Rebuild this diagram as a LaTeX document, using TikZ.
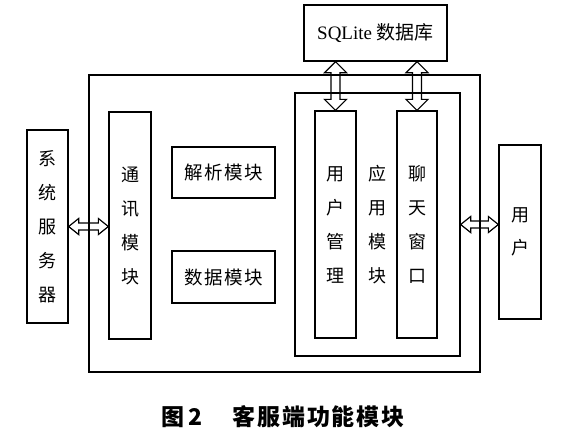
\documentclass[tikz,border=0pt]{standalone}
\usepackage{fontspec}
\setmainfont{Liberation Serif}
\newfontfamily\cjk{Noto Sans CJK SC}
\usetikzlibrary{calc}
\tikzset{
  box/.style={draw, line width=1.3pt, inner sep=0pt, align=center,
    font=\cjk\fontsize{18}{34}\selectfont},
  hbox/.style={box, font=\cjk\addfontfeature{LetterSpace=8}\fontsize{18.5}{20}\selectfont},
  frame/.style={draw, line width=1.1pt},
  arrowline/.style={draw, line width=1.2pt},
  dbl/.style n args={3}{to path={
    let \p1=($(\tikztostart)!#3!(\tikztotarget)$),
        \p2=($(\tikztotarget)!#3!(\tikztostart)$) in
    (\tikztostart) -- ($(\p1)!#1!90:(\tikztotarget)$) -- ($(\p1)!#2!90:(\tikztotarget)$)
    -- ($(\p2)!#2!-90:(\tikztostart)$) -- ($(\p2)!#1!-90:(\tikztostart)$) -- (\tikztotarget)
    -- ($(\p2)!#1!90:(\tikztostart)$) -- ($(\p2)!#2!90:(\tikztostart)$)
    -- ($(\p1)!#2!-90:(\tikztotarget)$) -- ($(\p1)!#1!-90:(\tikztotarget)$) -- cycle}},
  captext/.style={font=\cjk\bfseries\addfontfeature{LetterSpace=8}\fontsize{23}{23}\selectfont, inner sep=0pt}
}
\begin{document}
\begin{tikzpicture}[x=1pt,y=-1pt]
\useasboundingbox (0,0) rectangle (575,432);
\node[frame, minimum width=391, minimum height=297] (outer) at (284.5,223.5) {};
\node[box, minimum width=165, minimum height=263] (app) at (377.5,224.5) {应\\用\\模\\块};
\node[box, minimum width=41, minimum height=193] (sys) at (47.5,226.5) {系\\统\\服\\务\\器};
\node[box, minimum width=42, minimum height=227] (comm) at (130,225.5) {通\\讯\\模\\块};
\node[hbox, minimum width=103, minimum height=51] (parse) at (223.5,172.5) {解析模块};
\node[hbox, minimum width=103, minimum height=52] (data) at (223.5,277) {数据模块};
\node[box, minimum width=41, minimum height=227] (umgr) at (335.5,224.5) {用\\户\\管\\理};
\node[box, minimum width=40, minimum height=227] (chat) at (417,224.5) {聊\\天\\窗\\口};
\node[box, minimum width=143, minimum height=56, font=\fontsize{19}{20}\selectfont] (sql) at (375.5,33) {SQLite {\cjk 数据库}};
\node[box, minimum width=42, minimum height=174, font=\cjk\fontsize{18}{33}\selectfont] (user) at (520,232) {用\\户};
\coordinate (a1) at (sys.east -| comm.west);
\coordinate (a2) at (app.east -| user.west);
\coordinate (b1) at (umgr.north |- sql.south);
\coordinate (b2) at (chat.north |- sql.south);
\draw[arrowline] (sys.east) to[dbl={8pt}{3.5pt}{10pt}] (a1);
\draw[arrowline] (app.east) to[dbl={8pt}{3.5pt}{10pt}] (a2);
\draw[arrowline] (b1) to[dbl={11pt}{4.5pt}{11pt}] (umgr.north);
\draw[arrowline] (b2) to[dbl={11pt}{4.5pt}{11pt}] (chat.north);
\node[captext] (cap1) at (182.5,417) {图\hspace{4pt}2};
\node[captext] (cap2) at (318.5,417) {客服端功能模块};
\end{tikzpicture}
\end{document}
